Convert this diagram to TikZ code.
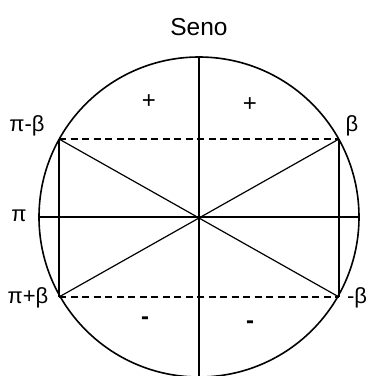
\documentclass[tikz,border=0pt]{standalone}
\usepackage{fontspec}
\setmainfont{Liberation Sans}
\begin{document}
\begin{tikzpicture}[x=1pt,y=-1pt,
  lbl/.style={inner sep=0pt,font=\fontsize{22}{22}\selectfont},
  plus/.style={inner sep=0pt,font=\fontsize{24}{24}\selectfont},
  sign/.style={inner sep=0pt,font=\fontsize{24}{24}\selectfont\bfseries},
  thin line/.style={line width=1.2pt},
  dash line/.style={line width=1.2pt,dash pattern=on 7pt off 4.5pt}]
\useasboundingbox (0,0) rectangle (368,376);
\coordinate (O) at (199,217);
\coordinate (A) at (59,139);
\coordinate (B) at (339,139);
\coordinate (C) at (59,297);
\coordinate (D) at (339,297);
\coordinate (L) at (39,217);
\coordinate (R) at (359,217);
\coordinate (T) at (199,57);
\coordinate (Bt) at (199,377);
\draw[line width=1.6pt] (O) circle[radius=160];
\draw[thin line] (L) -- (R);
\draw[thin line] (T) -- (Bt);
\draw[thin line] (A) -- (D);
\draw[thin line] (B) -- (C);
\draw[thin line] (A) -- (C);
\draw[thin line] (B) -- (D);
\draw[dash line] (A) -- (B);
\draw[dash line] (C) -- (D);
\node[inner sep=0pt,font=\fontsize{24.5}{24.5}\selectfont] (seno) at (199,27) {Seno};
\node[lbl] (pmb) at (27,126) {π-β};
\node[lbl] (b) at (352,126) {β};
\node[lbl] (pi) at (19,216) {π};
\node[lbl] (ppb) at (28,298) {π+β};
\node[lbl] (mb) at (357,298) {-β};
\node[plus] (p1) at (149,102) {+};
\node[plus] (p2) at (250,105) {+};
\node[sign] (m1) at (145,321) {-};
\node[sign] (m2) at (250,325) {-};
\end{tikzpicture}
\end{document}
